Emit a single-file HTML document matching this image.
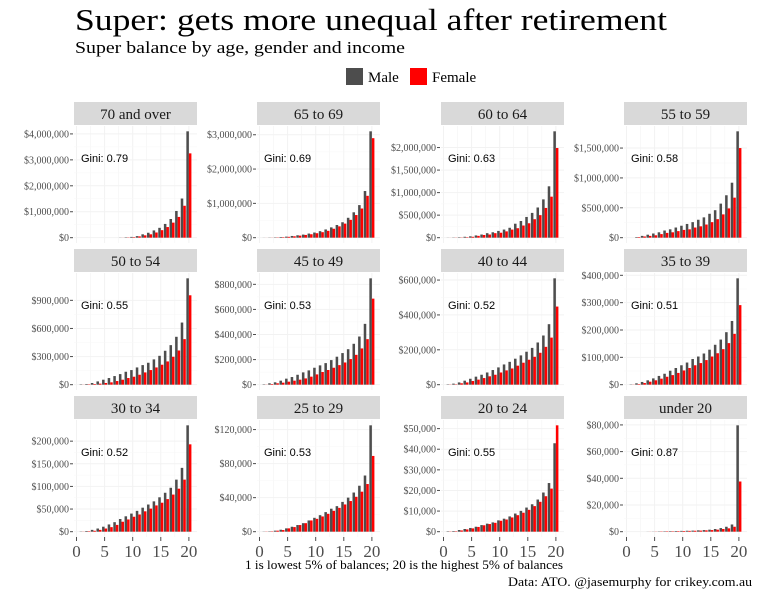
<!DOCTYPE html>
<html><head><meta charset="utf-8"><style>
body{margin:0;background:#fff;width:761px;height:600px;overflow:hidden}
svg{display:block}
</style></head><body>
<svg id="chart" width="761" height="600" xmlns="http://www.w3.org/2000/svg">
<text x="75" y="30" font-family="Liberation Serif, serif" font-size="31" textLength="592" lengthAdjust="spacingAndGlyphs" fill="#000">Super: gets more unequal after retirement</text>
<text x="75" y="53" font-family="Liberation Serif, serif" font-size="17" textLength="330" lengthAdjust="spacingAndGlyphs" fill="#000">Super balance by age, gender and income</text>
<g>
<g><rect x="346" y="68" width="17" height="17" fill="#4d4d4d"/><text x="368" y="82" font-family="Liberation Serif, serif" font-size="15">Male</text></g>
<g><rect x="410" y="68" width="17" height="17" fill="#ff0000"/><text x="432" y="82" font-family="Liberation Serif, serif" font-size="15">Female</text></g>
</g>
<text x="404" y="569" text-anchor="middle" font-family="Liberation Serif, serif" font-size="13" textLength="318" lengthAdjust="spacingAndGlyphs">1 is lowest 5% of balances; 20 is the highest 5% of balances</text>
<text x="752" y="586" text-anchor="end" font-family="Liberation Serif, serif" font-size="13" textLength="244" lengthAdjust="spacingAndGlyphs">Data: ATO. @jasemurphy for crikey.com.au</text>
<g id="panels"></g>
</svg>
<script>
// values in thousands of dollars, percentile group 1..20
const panelNames = ["70 and over","65 to 69","60 to 64","55 to 59","50 to 54","45 to 49","40 to 44","35 to 39","30 to 34","25 to 29","20 to 24","under 20"];
const giniValues = [0.79,0.69,0.63,0.58,0.55,0.53,0.52,0.51,0.52,0.53,0.55,0.87];
const maleValues = [
 [0,0,0,0,0,0,0,5,15,30,60,130,190,280,380,530,720,1030,1510,4100],
 [2,5,10,20,30,50,70,90,120,150,190,240,300,370,450,580,740,950,1360,3100],
 [2,5,10,20,30,50,70,100,120,150,180,220,310,370,460,550,670,850,1140,2360],
 [0,10,30,50,70,90,120,140,170,200,230,260,300,340,400,460,570,710,920,1780],
 [4,7,18,35,53,71,92,113,138,156,184,209,234,270,308,362,422,511,663,1135],
 [3,11,19,32,48,61,79,98,114,135,154,172,196,223,252,283,326,384,485,848],
 [2,6,13,23,34,46,57,70,84,99,116,131,149,168,189,211,242,282,347,610],
 [1,5,10,16,23,32,40,51,61,71,81,94,103,114,128,146,165,192,233,389],
 [0.5,1.5,4,7,11,16,21,28,34,40,46,53,60,67,76,86,97,115,141,235],
 [0.2,0.4,1.2,2.3,3.9,5.8,7.8,10,13.2,16.3,19.4,23,27,30,35,40,46,54,66,125],
 [0.2,0.3,0.8,1.3,1.8,2.4,3.2,3.9,4.5,5.5,6.3,7.4,8.8,10.1,11.7,13.3,15.6,19,23.6,42.9],
 [0,0,0,0.05,0.1,0.2,0.3,0.4,0.5,0.6,0.7,0.8,1,1.2,1.5,2,2.7,3.7,5.4,79.7]
];
const femaleValues = [
 [0,0,0,0,0,0,0,3,10,20,50,90,130,200,290,410,580,800,1230,3250],
 [1,3,8,15,25,40,60,80,100,130,160,200,260,330,410,520,660,850,1220,2900],
 [1,3,5,10,20,40,60,70,100,110,140,180,210,270,320,410,500,660,910,1990],
 [0,10,20,30,40,60,80,90,110,130,140,170,190,220,260,310,390,490,670,1500],
 [1,4,7,11,18,25,39,53,71,85,106,131,156,184,213,248,298,365,486,954],
 [1,5,11,16,24,32,40,50,64,82,101,117,135,156,177,204,238,289,363,686],
 [1,2,8,13,21,29,38,48,57,70,82,93,109,126,143,160,183,217,270,448],
 [0.5,2,6,11,16,22,29,35,43,52,61,71,79,90,103,115,130,152,186,291],
 [0.3,1,2,4,7,10,15,22,27,33,38,45,51,58,64,72,82,95,115,193],
 [0.2,0.4,1.2,1.9,3.9,5.4,7.8,10,13.2,15.1,17.9,21,24.5,28,32,36,41,47,56,89],
 [0.1,0.2,0.6,1.1,1.6,2.3,3.1,3.7,4.3,5.3,5.9,6.9,8.0,9.2,10.6,12.4,14.5,17.2,20.9,51.6],
 [0,0,0,0.05,0.1,0.2,0.3,0.3,0.4,0.5,0.6,0.7,0.8,1,1.2,1.5,2,2.5,3.7,37.6]
];
const tickValues = [
 [0,1000,2000,3000,4000],[0,1000,2000,3000],[0,500,1000,1500,2000],[0,500,1000,1500],
 [0,300,600,900],[0,200,400,600,800],[0,200,400,600],[0,100,200,300,400],
 [0,50,100,150,200],[0,40,80,120],[0,10,20,30,40,50],[0,20,40,60,80]
];
const xTicks = [0,5,10,15,20];

const NS="http://www.w3.org/2000/svg";
const root=document.getElementById('panels');
const colX=[74,257,441,624], rowY=[102,249,396], PW=123, SH=23, PH=117;
function mk(tag,attrs,parent){const e=document.createElementNS(NS,tag);for(const k in attrs)e.setAttribute(k,attrs[k]);parent.appendChild(e);return e;}
function fmt(v){return "$"+Math.round(v*1000).toLocaleString("en-US");}
panelNames.forEach((name,p)=>{
  const r=Math.floor(p/4), c=p%4;
  const L=colX[c], T=rowY[r], PT=T+SH+1;
  const g=mk('g',{},root);
  
  
  const strip=mk('rect',{x:L,y:T,width:PW,height:SH,fill:'#d9d9d9'},g);
  
  
  const st=mk('text',{x:L+PW/2,y:T+17,'text-anchor':'middle','font-family':'Liberation Serif, serif','font-size':'15',fill:'#1a1a1a'},g);
  st.textContent=name;
  
  
  const mx=Math.max(...maleValues[p],...femaleValues[p]);
  const lo=-0.05*mx, hi=1.05*mx;
  const y=v=>PT+PH-(v-lo)/(hi-lo)*PH;
  const xmin=-0.445, xmax=21.445;
  const x=v=>L+(v-xmin)/(xmax-xmin)*PW;
  for(let t=0;t<=20;t+=2.5){mk('line',{x1:x(t),x2:x(t),y1:PT,y2:PT+PH,stroke:'#f2f2f2','stroke-width':t%5==0?1:0.5},g);}
  const tv=tickValues[p];
  tv.forEach((t,i)=>{
    mk('line',{x1:L,x2:L+PW,y1:y(t),y2:y(t),stroke:'#f2f2f2','stroke-width':1},g);
    if(i<tv.length-1) mk('line',{x1:L,x2:L+PW,y1:y(t+(tv[1]-tv[0])/2),y2:y(t+(tv[1]-tv[0])/2),stroke:'#f7f7f7','stroke-width':0.5},g);
    mk('line',{x1:L-4,x2:L-1,y1:y(t),y2:y(t),stroke:'#4d4d4d','stroke-width':1},g);
    const lt=mk('text',{x:L-5,y:y(t)+3.5,'text-anchor':'end','font-family':'Liberation Serif, serif','font-size':'10',fill:'#4d4d4d'},g);
    lt.textContent=fmt(t);
    
    
  });
  const bw=0.45*PW/(xmax-xmin);
  for(let i=0;i<20;i++){
    const v=i+1;
    const m=maleValues[p][i], f=femaleValues[p][i];
    const bm=mk('rect',{x:x(v)-bw,y:y(m),width:bw,height:Math.max(0,y(0)-y(m)),fill:'#4d4d4d'},g);
    
    
    const bf=mk('rect',{x:x(v),y:y(f),width:bw,height:Math.max(0,y(0)-y(f)),fill:'#ff0000'},g);
    
    
  }
  const gt=mk('text',{x:L+7,y:PT+36,'font-family':'Liberation Sans, sans-serif','font-size':'11',fill:'#000'},g);
  gt.textContent='Gini: '+giniValues[p].toFixed(2);
  
  
  if(r==2){
    xTicks.forEach(t=>{
      mk('line',{x1:x(t),x2:x(t),y1:PT+PH,y2:PT+PH+4,stroke:'#4d4d4d'},g);
      const xt=mk('text',{x:x(t),y:PT+PH+20,'text-anchor':'middle','font-family':'Liberation Serif, serif','font-size':'17',fill:'#4d4d4d'},g);
      xt.textContent=t;
      
      
    });
  }
});
</script>
</body></html>
